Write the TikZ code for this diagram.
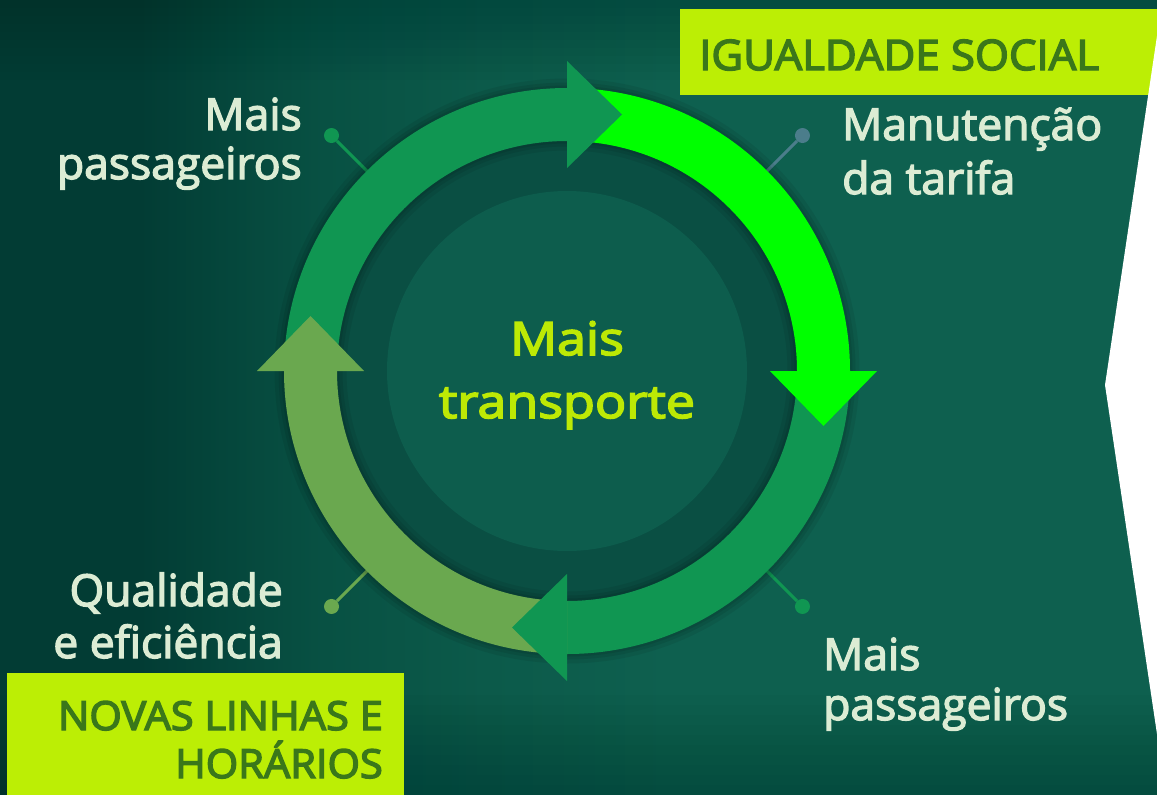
\documentclass[tikz,border=0pt]{standalone}
\usepackage{fontspec}
\setmainfont{Open Sans}
\newfontfamily\lblfont[FakeStretch=1.01,FakeBold=3]{Open Sans}
\newfontfamily\ctrfont[FakeStretch=1.13,FakeBold=3.5]{Open Sans}
\newfontfamily\boxfont[FakeStretch=1.04,FakeBold=3.5]{Open Sans}
\usetikzlibrary{calc}

\definecolor{bgDark}{HTML}{023C34}
\definecolor{bgM1}{HTML}{05473C}
\definecolor{bgM2}{HTML}{085143}
\definecolor{bgM3}{HTML}{0C5A4A}
\definecolor{bgLight}{HTML}{0E604F}
\definecolor{shadeDark}{HTML}{01302A}
\definecolor{ringG}{HTML}{109652}
\definecolor{brightG}{HTML}{00FF00}
\definecolor{oliveG}{HTML}{6AA84F}
\definecolor{limeBox}{HTML}{BCEE05}
\definecolor{boxText}{HTML}{3A771A}
\definecolor{lblText}{HTML}{DCECD4}
\definecolor{ctrText}{HTML}{BDE905}
\definecolor{leadBlue}{HTML}{4B7D8B}
\definecolor{diskC}{HTML}{0D5D4D}
\definecolor{bandC}{HTML}{0A4F43}

% path bounding box spans 25bp..75bp of the shading
\pgfdeclarehorizontalshading{bgshade}{100bp}{%
  color(0bp)=(bgDark); color(31bp)=(bgDark); color(35bp)=(bgM1);
  color(39bp)=(bgM2); color(46bp)=(bgM3); color(54bp)=(bgLight); color(100bp)=(bgLight)}

\begin{document}
\begin{tikzpicture}[x=1pt,y=-1pt,
  lbl/.style={text=lblText, inner sep=0pt, font=\lblfont\fontsize{44}{50}\selectfont},
  ctr/.style={text=ctrText, inner sep=0pt, font=\ctrfont\fontsize{46}{56}\selectfont},
  boxtxt/.style={text=boxText, inner sep=0pt, font=\boxfont\fontsize{42}{48}\selectfont},
  dot/.style={circle, inner sep=0pt, minimum size=15pt},
  limebox/.style={fill=limeBox, inner sep=0pt, draw=none}]
\useasboundingbox (0,0) rectangle (1157,795);
\clip (0,0) rectangle (1157,795);
\fill[shading=bgshade] (0,0) rectangle (1157,795);
% darkening towards the top and the bottom edges
\foreach \i in {0,...,9} {
  \fill[shadeDark, opacity=0.035] (0,0) rectangle (1157,{8*(10-\i)});
  \fill[shadeDark, opacity=0.04] (0,{795-10*(10-\i)}) rectangle (1157,795);
}

% side boxes
\node[limebox, anchor=north west, minimum width=477pt, minimum height=86pt] (igBox) at (680,9) {};
\node[limebox, anchor=north west, minimum width=397pt, minimum height=130pt] (nvBox) at (7,673) {};

% white panel on the right
\fill[white] (1161,9) -- (1105,385) -- (1161,761) -- cycle;

% box texts
\node[boxtxt, anchor=base west] (igTxt) at (699,70) {IGUALDADE SOCIAL};
\node[boxtxt, anchor=base east, font=\boxfont\fontsize{40}{46}\selectfont] (nv1) at (383,730) {NOVAS LINHAS E};
\node[boxtxt, anchor=base east, font=\boxfont\fontsize{40}{46}\selectfont] (nv2) at (383,778) {HORÁRIOS};

% cycle
\begin{scope}[shift={(567,371)}, yscale=-1]
  \fill[bandC] (0,0) circle[radius=232];
  \fill[diskC] (0,0) circle[radius=180];
  \node[coordinate] (ctr) at (0,0) {};
  % leader lines
  \foreach \a/\c/\n in {135/ringG/ul, 45/leadBlue/ur, -45/ringG/lr, -135/oliveG/ll} {
    \node[dot, fill=\c] (dot\n) at (\a:333) {};
    \coordinate (ring\n) at (\a:275);
    \draw[\c, line width=3pt] (dot\n) -- (ring\n);
  }
  % soft shadow
  \draw[black, opacity=0.07, line width=72pt] (0,0) circle[radius=256.5];
  \draw[black, opacity=0.08, line width=64pt] (0,0) circle[radius=256.5];
  \draw[black, opacity=0.08, line width=58pt] (0,0) circle[radius=256.5];
  % shafts
  \fill[ringG] (180:283) arc[start angle=180, end angle=90, radius=283] -- (90:230) arc[start angle=90, end angle=180, radius=230] -- cycle;
  \fill[brightG] (90:283) arc[start angle=90, end angle=0, radius=283] -- (0:230) arc[start angle=0, end angle=90, radius=230] -- cycle;
  \fill[ringG] (0:283) arc[start angle=0, end angle=-90, radius=283] -- (-90:230) arc[start angle=-90, end angle=0, radius=230] -- cycle;
  \fill[oliveG] (-90:283) arc[start angle=-90, end angle=-180, radius=283] -- (-180:230) arc[start angle=-180, end angle=-90, radius=230] -- cycle;
  % heads
  \fill[ringG] (90:203) -- (90:310) -- ([shift={(0:55)}]90:256.5) -- cycle;
  \fill[brightG] (0:203) -- (0:310) -- ([shift={(-90:55)}]0:256.5) -- cycle;
  \fill[ringG] (-90:203) -- (-90:310) -- ([shift={(-180:55)}]-90:256.5) -- cycle;
  \fill[oliveG] (180:203) -- (180:310) -- ([shift={(90:55)}]180:256.5) -- cycle;
\end{scope}

% centre text
\node[ctr, anchor=base] (c1) at (567,355) {Mais};
\node[ctr, anchor=base] (c2) at (567,418) {transporte};

% labels
\node[lbl, anchor=base east] (tl1) at (302,130) {Mais};
\node[lbl, anchor=base east] (tl2) at (302,179) {passageiros};
\node[lbl, anchor=base west] (tr1) at (842,140) {Manutenção};
\node[lbl, anchor=base west] (tr2) at (842,194) {da tarifa};
\node[lbl, anchor=base west] (br1) at (823,670) {Mais};
\node[lbl, anchor=base west] (br2) at (823,720) {passageiros};
\node[lbl, anchor=base east] (bl1) at (283,606) {Qualidade};
\node[lbl, anchor=base east] (bl2) at (283,658) {e eficiência};
\end{tikzpicture}
\end{document}
